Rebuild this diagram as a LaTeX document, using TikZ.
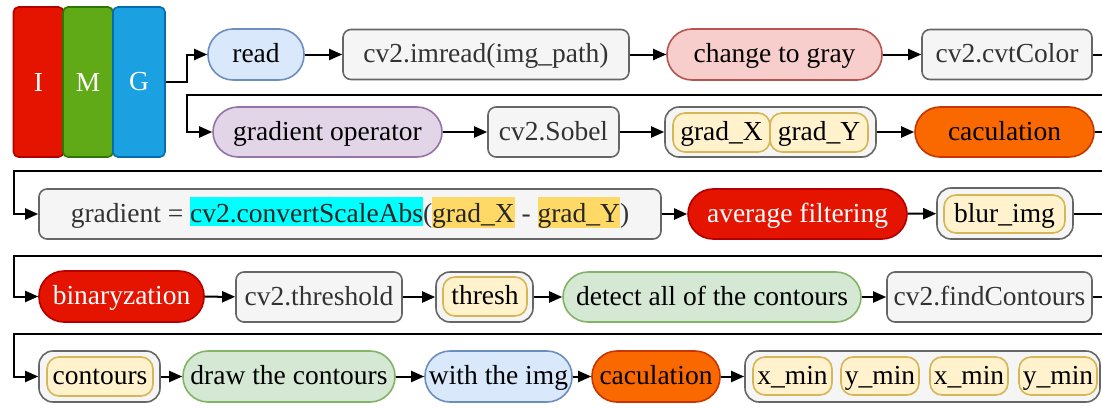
\documentclass[tikz,border=0pt]{standalone}
\usepackage{fontspec}
\setmainfont{Liberation Serif}
\usetikzlibrary{arrows.meta}

% palette
\definecolor{blueF}{HTML}{DAE8FC}\definecolor{blueD}{HTML}{6C8EBF}
\definecolor{pinkF}{HTML}{F8CECC}\definecolor{pinkD}{HTML}{B85450}
\definecolor{purpF}{HTML}{E1D5E7}\definecolor{purpD}{HTML}{9673A6}
\definecolor{greenF}{HTML}{D5E8D4}\definecolor{greenD}{HTML}{82B366}
\definecolor{orangeF}{HTML}{FA6800}\definecolor{orangeD}{HTML}{C73500}
\definecolor{crimF}{HTML}{E51400}\definecolor{crimD}{HTML}{B20000}
\definecolor{leafF}{HTML}{60A917}\definecolor{leafD}{HTML}{2D7600}
\definecolor{skyF}{HTML}{1BA1E2}\definecolor{skyD}{HTML}{006EAF}
\definecolor{yelF}{HTML}{FFF2CC}\definecolor{yelD}{HTML}{D6B656}
\definecolor{grayF}{HTML}{F5F5F5}\definecolor{grayD}{HTML}{666666}
\definecolor{codeT}{HTML}{333333}
\definecolor{hlCyan}{HTML}{00FFFF}\definecolor{hlYel}{HTML}{FFD966}

% highlighted run of text
\newcommand\hlbox[2]{{\setlength{\fboxsep}{0pt}\colorbox{#1}{\rule[-4pt]{0pt}{29pt}\textcolor{black!85}{#2}}}}

\begin{document}
\begin{tikzpicture}[x=1pt,y=-1pt,
  font=\fontsize{27.5}{32}\selectfont,
  base/.style={draw, line width=1.6pt, inner sep=0pt, align=center,
    text height=20pt, text depth=4pt, minimum height=51pt},
  pill/.style={base, rounded corners=25pt},
  codebox/.style={base, fill=grayF, draw=grayD, text=codeT, rounded corners=8pt, minimum height=50pt},
  groupbox/.style={base, fill=grayF, draw=grayD, rounded corners=14pt},
  varbox/.style={base, fill=yelF, draw=yelD, rounded corners=12pt, minimum height=38pt},
  imgblock/.style={draw, line width=1.6pt, rounded corners=5pt, text=white,
    minimum width=50pt, minimum height=150pt, inner sep=0pt},
  arr/.style={line width=2pt, -{Triangle[length=13pt,width=11pt]}},
]
\useasboundingbox (0,0) rectangle (1102,407);
\clip (0,0) rectangle (1102,407);

% IMG blocks
\node[imgblock, fill=crimF, draw=crimD] (bI) at (38.5,82) {I};
\node[imgblock, fill=leafF, draw=leafD] (bM) at (88,82) {M};
\node[imgblock, fill=skyF, draw=skyD, minimum width=52pt] (bG) at (139,82) {G};

% row 1
\node[pill, fill=blueF, draw=blueD, minimum width=96pt] (read) at (256,54.5) {read};
\node[codebox, minimum width=286pt] (imread) at (486,54.5) {cv2.imread(img\_path)};
\node[pill, fill=pinkF, draw=pinkD, minimum width=215pt] (gray) at (774.5,54.5) {change to gray};
\node[codebox, minimum width=170pt] (cvt) at (1007,54.5) {cv2.cvtColor};

% row 2
\node[pill, fill=purpF, draw=purpD, minimum width=229pt, minimum height=50pt] (gop) at (327.5,132) {gradient operator};
\node[codebox, minimum width=131pt] (sobel) at (553.5,132) {cv2.Sobel};
\node[groupbox, minimum width=211pt, minimum height=50pt] (ggrp) at (770.5,132) {};
\node[varbox, minimum width=97pt, minimum height=39pt] (gX) at (721.5,132.5) {grad\_X};
\node[varbox, minimum width=98pt, minimum height=39pt] (gY) at (819,132.5) {grad\_Y};
\node[pill, fill=orangeF, draw=orangeD, minimum width=179pt, minimum height=50pt] (cal1) at (1004.5,132) {caculation};

% row 3
\node[codebox, minimum width=622pt] (grad) at (350,214) {\textcolor{codeT}{gradient =} \hlbox{hlCyan}{cv2.convertScaleAbs}(\hlbox{hlYel}{grad\_X} - \hlbox{hlYel}{grad\_Y})};
\node[pill, fill=crimF, draw=crimD, text=white, minimum width=219pt, minimum height=50pt] (avg) at (797.5,214) {average filtering};
\node[groupbox, minimum width=136pt] (bgrp) at (1005,213.5) {};
\node[varbox, minimum width=121pt] (blur) at (1004.5,214) {blur\_img};

% row 4
\node[pill, fill=crimF, draw=crimD, text=white, minimum width=165pt] (bin) at (121.5,296.5) {binaryzation};
\node[codebox, minimum width=166pt] (thr) at (319,297) {cv2.threshold};
\node[groupbox, minimum width=97pt, minimum height=50pt] (tgrp) at (484.5,297) {};
\node[varbox, minimum width=84pt, minimum height=39pt] (thresh) at (485,296.5) {thresh};
\node[pill, fill=greenF, draw=greenD, minimum width=298pt, minimum height=50pt] (detect) at (712,297) {detect all of the contours};
\node[codebox, minimum width=205pt] (find) at (989.5,297) {cv2.findContours};

% row 5
\node[groupbox, minimum width=121pt] (cgrp) at (99.5,376.5) {};
\node[varbox, minimum width=106pt, minimum height=39pt] (cont) at (100,376.5) {contours};
\node[pill, fill=greenF, draw=greenD, minimum width=212pt] (drawc) at (289,376.5) {draw the contours};
\node[pill, fill=blueF, draw=blueD, minimum width=147pt] (withimg) at (498.5,376.5) {with the img};
\node[pill, fill=orangeF, draw=orangeD, minimum width=128pt] (cal2) at (656,376.5) {caculation};
\node[groupbox, minimum width=355pt] (mgrp) at (922.5,376.5) {};
\node[varbox, minimum width=79pt] (m1) at (792.5,376) {x\_min};
\node[varbox, minimum width=78pt] (m2) at (880,376) {y\_min};
\node[varbox, minimum width=78pt] (m3) at (969,376) {x\_min};
\node[varbox, minimum width=78pt] (m4) at (1058,376) {y\_min};

% turning points of the line-wrapping connectors
\coordinate (rx) at (1114,0);
\coordinate (t0) at (187,82);
\coordinate (t1) at (187,95);
\coordinate (t2) at (14,171);
\coordinate (t3) at (14,256);
\coordinate (t4) at (14,334);

% connectors
\draw[arr] (bG.east) -- (t0) |- (read.west);
\draw[arr] (read) -- (imread);
\draw[arr] (imread) -- (gray);
\draw[arr] (gray) -- (cvt);
\draw[arr] (cvt.east) -| (rx |- t1) -- (t1) |- (gop.west);
\draw[arr] (gop) -- (sobel);
\draw[arr] (sobel) -- (ggrp);
\draw[arr] (ggrp) -- (cal1);
\draw[arr] (cal1.east) -| (rx |- t2) -- (t2) |- (grad.west);
\draw[arr] (grad) -- (avg);
\draw[arr] (avg) -- (bgrp);
\draw[arr] (bgrp.east) -| (rx |- t3) -- (t3) |- (bin.west);
\draw[arr] (bin) -- (thr);
\draw[arr] (thr) -- (tgrp);
\draw[arr] (tgrp) -- (detect);
\draw[arr] (detect) -- (find);
\draw[arr] (find.east) -| (rx |- t4) -- (t4) |- (cgrp.west);
\draw[arr] (cgrp) -- (drawc);
\draw[arr] (drawc) -- (withimg);
\draw[arr] (withimg) -- (cal2);
\draw[arr] (cal2) -- (mgrp);
\end{tikzpicture}
\end{document}
